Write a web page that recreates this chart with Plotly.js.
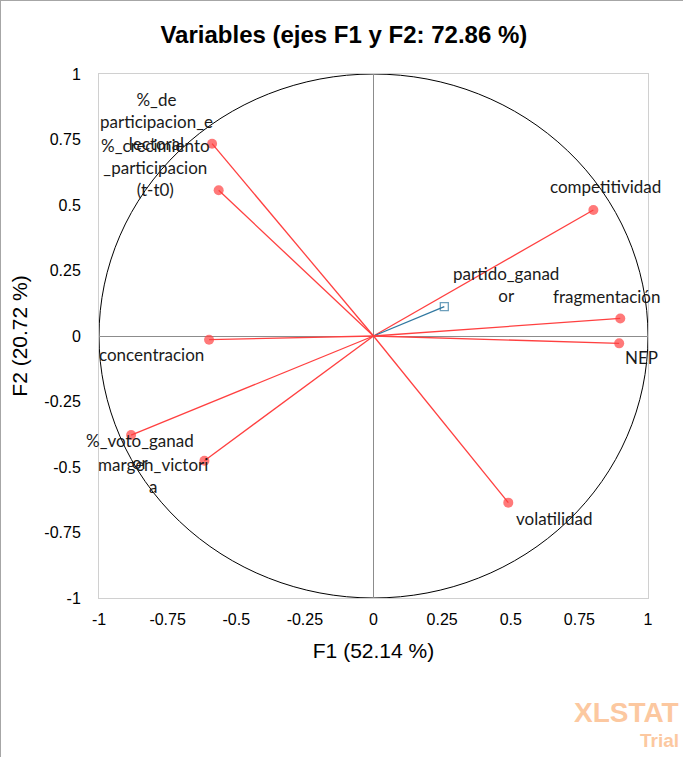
<!DOCTYPE html>
<html>
<head>
<meta charset="utf-8">
<script src="https://cdn.plot.ly/plotly-3.0.1.min.js"></script>
<style>
  html, body { margin: 0; padding: 0; background: #fff; }
  #chart { width: 683px; height: 757px; box-sizing: border-box; border: 1px solid #a6a6a6; }
</style>
</head>
<body>
<div id="chart"></div>
<script>
// ---- data ----
const VARIABLES = [
  "%_de<br>participacion_e<br>lectoral",
  "%_crecimiento<br>_participacion<br>(t-t0)",
  "competitividad",
  "partido_ganad<br>or",
  "fragmentación",
  "NEP",
  "concentracion",
  "%_voto_ganad<br>or",
  "margen_victori<br>a",
  "volatilidad"
];
const F1 = [-0.588, -0.564, 0.801, 0.258, 0.899, 0.895, -0.599, -0.883, -0.616, 0.491];
const F2 = [0.734, 0.556, 0.481, 0.112, 0.067, -0.028, -0.014, -0.378, -0.476, -0.636];
const SUPPLEMENTARY = [false, false, false, true, false, false, false, false, false, false];
const TICK_VALS = [-1, -0.75, -0.5, -0.25, 0, 0.25, 0.5, 0.75, 1];
const TICK_TEXT = ["-1", "-0.75", "-0.5", "-0.25", "0", "0.25", "0.5", "0.75", "1"];

// ---- style: label offsets in pixels (dx, dy up-positive) ----
const LABEL_SHIFT = [
  [-56, 22], [-63, 23], [12, 23], [62, 22], [-13, 22],
  [22, -14], [-58, -15], [9, -16], [-51, -15], [46, -16]
];

const RED = "rgb(255,64,64)";
const BLUE = "rgb(49,120,160)";
const LABEL_FONT = { family: "Lato, 'Liberation Sans', sans-serif", size: 17, color: "#1a1a1a" };

const traces = [];
for (let i = 0; i < VARIABLES.length; i++) {
  const sup = SUPPLEMENTARY[i];
  const c = sup ? BLUE : RED;
  traces.push({
    type: "scatter",
    mode: "lines+markers",
    x: [0, F1[i]],
    y: [0, F2[i]],
    line: { color: c, width: 1.3 },
    marker: {
      size: [0, sup ? 8 : 10],
      symbol: sup ? "square-open" : "circle",
      color: c,
      line: { color: c, width: sup ? 1.3 : 0 }
    },
    hoverinfo: "skip",
    showlegend: false
  });
}

const annotations = VARIABLES.map((t, i) => ({
  x: F1[i], y: F2[i], xref: "x", yref: "y",
  text: t, showarrow: false,
  xanchor: "center", yanchor: "middle", align: "center",
  xshift: LABEL_SHIFT[i][0], yshift: LABEL_SHIFT[i][1],
  font: LABEL_FONT
}));

annotations.push({
  xref: "paper", yref: "paper", x: 1.06, y: -0.218, xanchor: "right", yanchor: "middle",
  text: "<b>XLSTAT</b>", showarrow: false,
  font: { family: "'Liberation Sans', Arial, sans-serif", size: 28, color: "rgb(252,200,160)" }
});
annotations.push({
  xref: "paper", yref: "paper", x: 1.06, y: -0.272, xanchor: "right", yanchor: "middle",
  text: "<b>Trial</b>", showarrow: false,
  font: { family: "'Liberation Sans', Arial, sans-serif", size: 19, color: "rgb(252,200,160)" }
});

const axisCommon = {
  range: [-1, 1],
  tickvals: TICK_VALS,
  ticktext: TICK_TEXT,
  ticks: "",
  showgrid: false,
  zeroline: true,
  zerolinecolor: "#8c8c8c",
  zerolinewidth: 1,
  showline: true,
  linecolor: "#d0d0d0",
  linewidth: 1,
  mirror: true,
  tickfont: { family: "'Liberation Sans', Arial, sans-serif", size: 16, color: "#000" },
  fixedrange: true
};

const layout = {
  width: 683, height: 757,
  margin: { l: 98, r: 36, t: 73, b: 160 },
  paper_bgcolor: "#fff",
  plot_bgcolor: "#fff",
  title: {
    text: "<b>Variables (ejes F1 y F2: 72.86 %)</b>",
    font: { family: "'Liberation Sans', Arial, sans-serif", size: 24, color: "#000" },
    x: 0.502, xanchor: "center", y: 0.955, yanchor: "middle"
  },
  xaxis: Object.assign({}, axisCommon, {
    ticklabelstandoff: 7,
    title: { text: "F1 (52.14 %)", standoff: 16,
      font: { family: "'Liberation Sans', Arial, sans-serif", size: 21, color: "#000" } }
  }),
  yaxis: Object.assign({}, axisCommon, {
    ticklabelstandoff: 14,
    title: { text: "F2 (20.72 %)", standoff: 10,
      font: { family: "'Liberation Sans', Arial, sans-serif", size: 21, color: "#000" } }
  }),
  shapes: [{
    type: "circle", xref: "x", yref: "y", x0: -1, y0: -1, x1: 1, y1: 1,
    line: { color: "#000", width: 1 }, layer: "below"
  }],
  annotations: annotations,
  showlegend: false
};

Plotly.newPlot("chart", traces, layout, { displayModeBar: false, staticPlot: true });
</script>
</body>
</html>
